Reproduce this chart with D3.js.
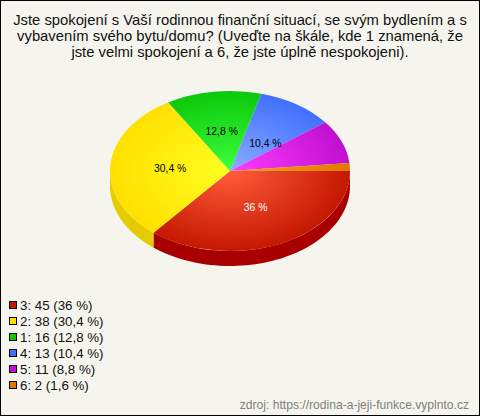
<!DOCTYPE html>
<html><head><meta charset="utf-8">
<script src="https://cdn.jsdelivr.net/npm/d3@7"></script>
<style>html,body{margin:0;padding:0;background:#f5f5ed}svg{display:block}text{font-family:"Liberation Sans",Arial,sans-serif}</style>
</head><body><svg id="c" width="480" height="416"></svg>
<script>
const titleLines = ["Jste spokojení s Vaší rodinnou finanční situací, se svým bydlením a s","vybavením svého bytu/domu? (Uveďte na škále, kde 1 znamená, že","jste velmi spokojení a 6, že jste úplně nespokojeni)."];
const categories = ["3","2","1","4","5","6"];
const counts = [45,38,16,13,11,2];
const percents = ["36","30,4","12,8","10,4","8,8","1,6"];
const inner = ["#ff5c3c","#ffff22","#3cff3c","#8cacff","#ff3cff","#ffa020"];
const outer = ["#c41800","#ffe000","#0cc80c","#4070ff","#c010d0","#e07800"];
const sides = ["#a80000","#e4cc00","#0a9a0a","#3050c0","#9000a0","#b06000"];
const source = "zdroj: https://rodina-a-jeji-funkce.vyplnto.cz";

const W=480,H=416,cx=230,cy=171,rx=120,ry=80,depth=15;
const svg=d3.select("#c");
svg.append("rect").attr("x",.5).attr("y",.5).attr("width",W-1).attr("height",H-1).attr("fill","#f5f5ed").attr("stroke","#000");

svg.append("g").selectAll("text").data(titleLines).join("text")
 .attr("x",240).attr("y",(d,i)=>25+i*16).attr("text-anchor","middle")
 .attr("font-size",14.8).attr("fill","#111").text(d=>d);

const pie=d3.pie().value(d=>d.v).sort(null).startAngle(Math.PI/2).endAngle(Math.PI/2+2*Math.PI);
const arcs=pie(counts.map((v,i)=>({v,i})));
const arc=d3.arc().innerRadius(0).outerRadius(rx);
const defs=svg.append("defs");
arcs.forEach(a=>{const i=a.data.i;
 const g=defs.append("radialGradient").attr("id","g"+i).attr("gradientUnits","userSpaceOnUse")
  .attr("cx",0).attr("cy",0).attr("r",rx);
 g.append("stop").attr("offset",0).attr("stop-color",inner[i]);
 g.append("stop").attr("offset",1).attr("stop-color",outer[i]);
});
// walls: visible lower half of the ellipse
const toT=a=>a-Math.PI/2;
const wall=svg.append("g");
arcs.forEach(a=>{
 const s=Math.max(toT(a.startAngle),0),e=Math.min(toT(a.endAngle),Math.PI);
 if(e<=s)return;
 const ts=d3.range(0,61).map(k=>s+(e-s)*k/60);
 const upper=ts.map(t=>[cx+rx*Math.cos(t),cy+ry*Math.sin(t)]);
 const lower=ts.slice().reverse().map(t=>[cx+rx*Math.cos(t),cy+ry*Math.sin(t)+depth]);
 wall.append("path").attr("d",d3.line()(upper.concat(lower))+"Z").attr("fill",sides[a.data.i]);
});
const face=svg.append("g").attr("transform",`translate(${cx},${cy}) scale(1,${ry/rx})`);
face.selectAll("path").data(arcs).join("path").attr("d",arc).attr("fill",d=>`url(#g${d.data.i})`);

const lab=d3.arc().innerRadius(rx*.5).outerRadius(rx*.5);
svg.append("g").selectAll("text").data(arcs.filter(d=>d.data.v/125>=.1)).join("text")
 .attr("x",d=>cx+lab.centroid(d)[0]+(d.data.i===3?2:0)).attr("y",d=>cy+lab.centroid(d)[1]*ry/rx+4+(d.data.i===3?5:0))
 .attr("text-anchor","middle").attr("font-size",10.4)
 .attr("fill",d=>d.data.i===0?"#fff":"#000").text(d=>percents[d.data.i]+" %");

const ly=d3.scalePoint().domain(categories).range([305,385]);
const leg=svg.append("g").selectAll("g").data(categories).join("g").attr("transform",d=>`translate(0,${ly(d)})`);
leg.append("rect").attr("x",9.5).attr("y",-3.5).attr("width",7).attr("height",7).attr("fill",(d,i)=>outer[i]).attr("stroke","#000");
leg.append("text").attr("x",20).attr("y",5).attr("font-size",13.3).attr("fill","#111")
 .text((d,i)=>`${d}: ${counts[i]} (${percents[i]} %)`);

svg.append("text").attr("x",469).attr("y",409).attr("text-anchor","end").attr("font-size",12.1).attr("fill","#808080").text(source);
</script></body></html>
